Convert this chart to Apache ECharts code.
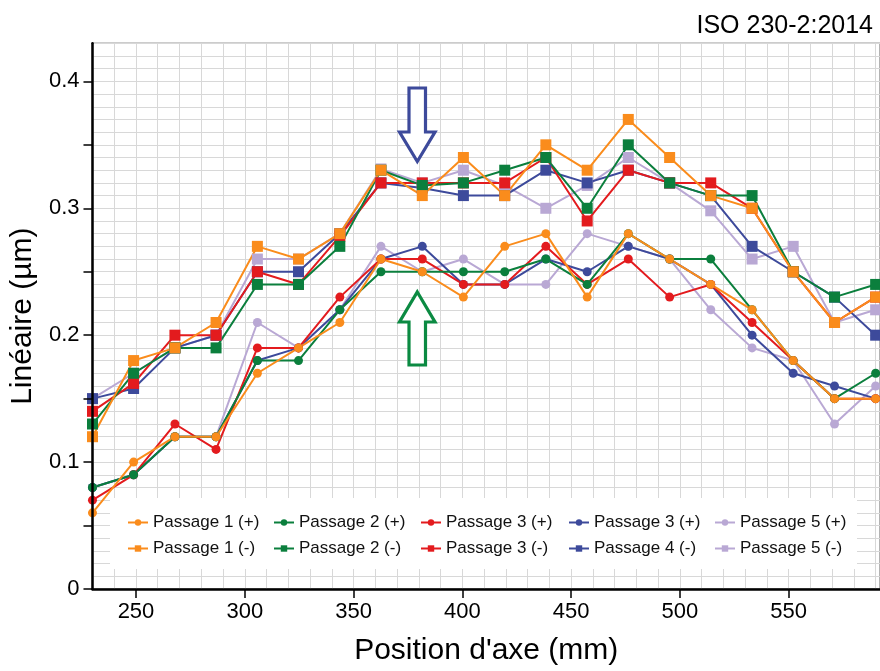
<!DOCTYPE html>
<html>
<head>
<meta charset="utf-8">
<script src="https://cdn.jsdelivr.net/npm/echarts@6/dist/echarts.min.js"></script>
<style>
html,body{margin:0;padding:0;background:#fff;}
#chart{width:880px;height:671px;}
</style>
</head>
<body>
<div id="chart"></div>
<script>
// Positions along the axis (mm)
const positions = [230, 248.9, 267.9, 286.8, 305.8, 324.7, 343.7, 362.6, 381.6, 400.5, 419.5, 438.4, 457.4, 476.3, 495.3, 514.2, 533.2, 552.1, 571.1, 590];

// (+) passes (circles)
const p1Plus = [0.06, 0.10, 0.12, 0.12, 0.17, 0.19, 0.21, 0.26, 0.25, 0.23, 0.27, 0.28, 0.23, 0.28, 0.26, 0.24, 0.22, 0.18, 0.15, 0.15];
const p2Plus = [0.08, 0.09, 0.12, 0.12, 0.18, 0.18, 0.22, 0.25, 0.25, 0.25, 0.25, 0.26, 0.24, 0.28, 0.26, 0.26, 0.22, 0.18, 0.15, 0.17];
const p3Plus = [0.07, 0.09, 0.13, 0.11, 0.19, 0.19, 0.23, 0.26, 0.26, 0.24, 0.24, 0.27, 0.24, 0.26, 0.23, 0.24, 0.21, 0.18, 0.15, 0.15];
const p3bPlus = [0.08, 0.09, 0.12, 0.12, 0.18, 0.19, 0.22, 0.26, 0.27, 0.24, 0.24, 0.26, 0.25, 0.27, 0.26, 0.24, 0.20, 0.17, 0.16, 0.15];
const p5Plus = [0.08, 0.09, 0.12, 0.12, 0.21, 0.19, 0.22, 0.27, 0.25, 0.26, 0.24, 0.24, 0.28, 0.27, 0.26, 0.22, 0.19, 0.18, 0.13, 0.16];

// (-) passes (squares)
const p1Minus = [0.12, 0.18, 0.19, 0.21, 0.27, 0.26, 0.28, 0.33, 0.31, 0.34, 0.31, 0.35, 0.33, 0.37, 0.34, 0.31, 0.30, 0.25, 0.21, 0.23];
const p2Minus = [0.13, 0.17, 0.19, 0.19, 0.24, 0.24, 0.27, 0.33, 0.318, 0.32, 0.33, 0.34, 0.30, 0.35, 0.32, 0.31, 0.31, 0.25, 0.23, 0.24];
const p3Minus = [0.14, 0.162, 0.20, 0.20, 0.25, 0.24, 0.278, 0.32, 0.32, 0.32, 0.32, 0.34, 0.29, 0.33, 0.32, 0.32, 0.30, 0.25, 0.21, 0.23];
const p4Minus = [0.15, 0.158, 0.19, 0.20, 0.25, 0.25, 0.28, 0.32, 0.316, 0.31, 0.31, 0.33, 0.32, 0.33, 0.32, 0.31, 0.27, 0.25, 0.23, 0.20];
const p5Minus = [0.15, 0.17, 0.19, 0.20, 0.26, 0.26, 0.28, 0.331, 0.32, 0.33, 0.318, 0.30, 0.318, 0.34, 0.32, 0.298, 0.26, 0.27, 0.21, 0.22];

// Tick labels
const xTickLabels = [250, 300, 350, 400, 450, 500, 550];
const yTickMarks = [0, 0.05, 0.1, 0.15, 0.2, 0.25, 0.3, 0.35, 0.4];
const yTickLabels = [0, 0.1, 0.2, 0.3, 0.4];

const names = {
  p1p: 'Passage 1 (+)', p2p: 'Passage 2 (+)', p3p: 'Passage 3 (+)', p3bp: 'Passage 3\u00a0(+)', p5p: 'Passage 5 (+)',
  p1m: 'Passage 1 (-)', p2m: 'Passage 2 (-)', p3m: 'Passage 3 (-)', p4m: 'Passage 4 (-)', p5m: 'Passage 5 (-)'
};
const colors = { orange: '#fa8c1c', green: '#0b7f3d', red: '#e31b1e', blue: '#3d4a9b', lilac: '#b9a8d4' };

function pairs(vals) { return vals.map((v, i) => [positions[i], v]); }
function mk(name, vals, color, symbol) {
  return {
    name: name, type: 'line', data: pairs(vals),
    xAxisIndex: 0, yAxisIndex: 0,
    symbol: symbol, symbolSize: symbol === 'rect' ? 11 : 9,
    itemStyle: { color: color },
    lineStyle: { color: color, width: 2 },
    emphasis: { disabled: true }, animation: false
  };
}

const FONT = '"Liberation Sans", Arial, Helvetica, sans-serif';
const chart = echarts.init(document.getElementById('chart'));

const legendCols = [
  { left: 122, data: [names.p1p, names.p1m] },
  { left: 268, data: [names.p2p, names.p2m] },
  { left: 415, data: [names.p3p, names.p3m] },
  { left: 563, data: [names.p3bp, names.p4m] },
  { left: 709, data: [names.p5p, names.p5m] }
];

const gridLine = { show: true, lineStyle: { color: '#d8d8d8', width: 1 } };

chart.setOption({
  animation: false,
  textStyle: { fontFamily: FONT },
  title: {
    text: 'ISO 230-2:2014', right: 2, top: 9,
    textStyle: { fontSize: 25, fontWeight: 'normal', color: '#000', fontFamily: FONT }
  },
  grid: {
    left: 87.5, right: -2.5, top: 43.3, bottom: 80,
    show: true, borderColor: '#9a9a9a', borderWidth: 1.5, backgroundColor: 'transparent'
  },
  legend: legendCols.map(c => ({
    orient: 'vertical', left: c.left, top: 509,
    itemWidth: 20, itemHeight: 8, itemGap: 9,
    selectedMode: false,
    data: c.data,
    textStyle: { fontSize: 17, color: '#111', fontFamily: FONT }
  })),
  xAxis: [{
    type: 'value', min: 230, max: 592, position: 'bottom',
    name: "Position d'axe (mm)", nameLocation: 'middle', nameGap: 47,
    nameTextStyle: { fontSize: 30, color: '#000', fontFamily: FONT },
    axisLine: { show: true, onZero: false, lineStyle: { color: '#000', width: 2.5 } },
    axisTick: { show: true, length: 9, customValues: xTickLabels, lineStyle: { color: '#000', width: 1.5 } },
    axisLabel: { customValues: xTickLabels, fontSize: 22, color: '#000', margin: 12, fontFamily: FONT },
    splitLine: { show: false }, z: 5
  }, {
    type: 'value', min: 230, max: 592, interval: 10, position: 'bottom',
    axisLine: { show: false }, axisTick: { show: false }, axisLabel: { show: false },
    splitLine: gridLine, z: 0
  }],
  yAxis: [{
    type: 'value', min: 0, max: 0.43, position: 'left',
    name: 'Linéaire (µm)', nameLocation: 'middle', nameGap: 50,
    nameTextStyle: { fontSize: 30, color: '#000', fontFamily: FONT },
    axisLine: { show: true, onZero: false, lineStyle: { color: '#000', width: 2.5 } },
    axisTick: { show: true, length: 9, customValues: yTickMarks, lineStyle: { color: '#000', width: 1.5 } },
    axisLabel: { customValues: yTickLabels, fontSize: 22, color: '#000', margin: 13, fontFamily: FONT,
      formatter: v => String(Math.round(v * 10) / 10) },
    splitLine: { show: false }, z: 5
  }, {
    type: 'value', min: 0, max: 0.43, interval: 0.01, position: 'left',
    axisLine: { show: false }, axisTick: { show: false }, axisLabel: { show: false },
    splitLine: gridLine, z: 0
  }],
  graphic: [
    { type: 'rect', z: 1, shape: { x: 110, y: 498, width: 747, height: 71 }, style: { fill: '#fff' }, silent: true },
    { type: 'polygon', z: 3, silent: true,
      shape: { points: [[409, 88], [425.5, 88], [425.5, 132], [435, 132], [417.3, 161.5], [399.5, 132], [409, 132]] },
      style: { fill: '#fff', stroke: '#3d4a9b', lineWidth: 3.2 } },
    { type: 'polygon', z: 3, silent: true,
      shape: { points: [[417.3, 292], [435, 322], [425.5, 322], [425.5, 365], [409, 365], [409, 322], [399.5, 322]] },
      style: { fill: '#fff', stroke: '#0b8a42', lineWidth: 3.2 } }
  ],
  series: [
    mk(names.p5m, p5Minus, colors.lilac, 'rect'),
    mk(names.p5p, p5Plus, colors.lilac, 'circle'),
    mk(names.p4m, p4Minus, colors.blue, 'rect'),
    mk(names.p3bp, p3bPlus, colors.blue, 'circle'),
    mk(names.p3m, p3Minus, colors.red, 'rect'),
    mk(names.p3p, p3Plus, colors.red, 'circle'),
    mk(names.p2m, p2Minus, colors.green, 'rect'),
    mk(names.p2p, p2Plus, colors.green, 'circle'),
    mk(names.p1m, p1Minus, colors.orange, 'rect'),
    mk(names.p1p, p1Plus, colors.orange, 'circle')
  ]
});
</script>
</body>
</html>
